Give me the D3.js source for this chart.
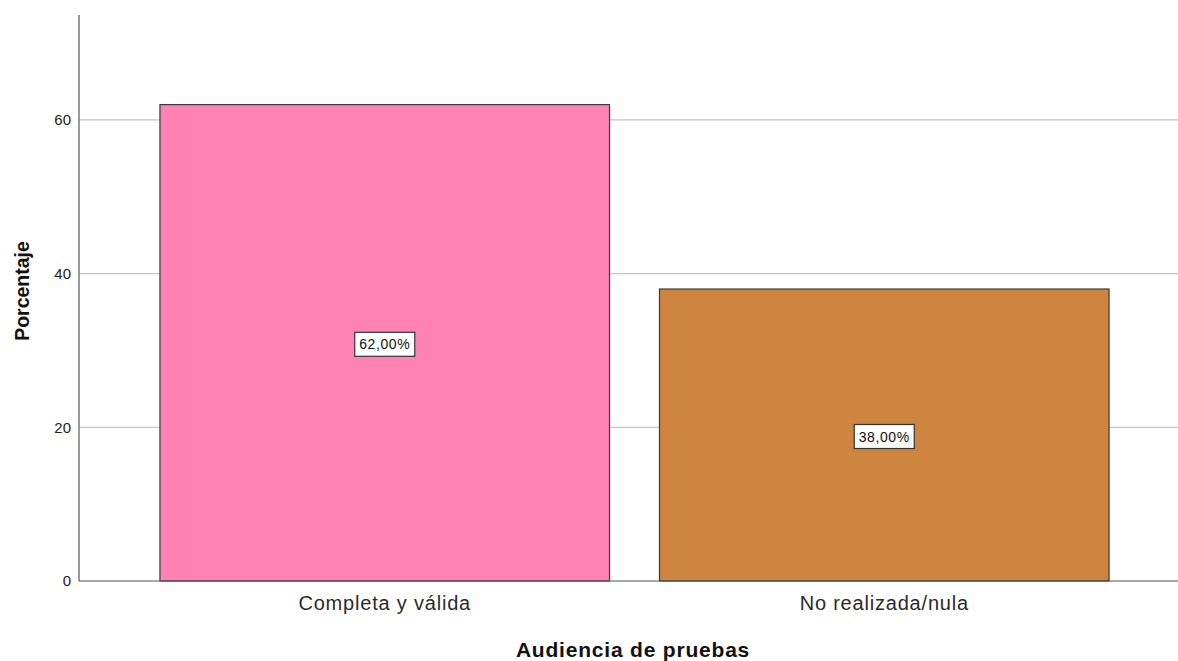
<!DOCTYPE html>
<html><head><meta charset="utf-8">
<script src="https://cdn.jsdelivr.net/npm/d3@7"></script>
<style>body{margin:0;background:#fff}svg{display:block}text{font-family:"Liberation Sans",Arial,sans-serif}</style>
</head><body><svg id="c" width="1178" height="661"></svg>
<script>
const categories = ["Completa y válida", "No realizada/nula"];
const values = [62, 38];
const valueLabels = ["62,00%", "38,00%"];
const colors = ["#FF82B4", "#CD853F"];
const yTicks = [0, 20, 40, 60];

(function () {
const svg = d3.select("#c");
const pL = 79, pR = 1178, pT = 15, pB = 581;
const FF = '"Liberation Sans",Arial,sans-serif';
const y = d3.scaleLinear().domain([0, 73.66]).range([pB, pT]);
const x = d3.scaleBand().domain(categories).range([110, 1159]).paddingInner(0.1).paddingOuter(0.1);

// gridlines
svg.append("g").selectAll("line").data(yTicks.filter(d => d > 0)).join("line")
  .attr("x1", pL).attr("x2", pR).attr("y1", d => y(d)).attr("y2", d => y(d))
  .attr("stroke", "#c4c4c4").attr("stroke-width", 1.3);

// bars
svg.append("g").selectAll("rect").data(categories).join("rect")
  .attr("x", d => x(d)).attr("width", x.bandwidth())
  .attr("y", (d, i) => y(values[i])).attr("height", (d, i) => y(0) - y(values[i]))
  .attr("fill", (d, i) => colors[i]).attr("stroke", "#3a3a3a").attr("stroke-width", 1.2);

// axes
const yAxis = d3.axisLeft(y).tickValues(yTicks).tickSize(0).tickPadding(8);
const gy = svg.append("g").attr("transform", `translate(${pL},0)`).call(yAxis);
gy.select(".domain").remove();
gy.selectAll("text").attr("font-size", 15).attr("fill", "#222").style("font-family", FF);
svg.append("line").attr("x1", pL).attr("x2", pL).attr("y1", pT).attr("y2", pB).attr("stroke", "#777").attr("stroke-width", 1.5);
svg.append("line").attr("x1", pL).attr("x2", pR).attr("y1", pB).attr("y2", pB).attr("stroke", "#555").attr("stroke-width", 1.2);

const xAxis = d3.axisBottom(x).tickSize(0).tickPadding(15);
const gx = svg.append("g").attr("transform", `translate(0,${pB})`).call(xAxis);
gx.select(".domain").remove();
gx.selectAll("text").attr("font-size", 20).attr("fill", "#2a2a2a").attr("letter-spacing", 0.8).style("font-family", FF);

// value labels
const lg = svg.append("g").selectAll("g").data(categories).join("g")
  .attr("transform", (d, i) => `translate(${x(d) + x.bandwidth() / 2},${(y(values[i]) + y(0)) / 2 + 1.5})`);
lg.append("rect").attr("x", -30).attr("y", -12).attr("width", 60).attr("height", 24)
  .attr("fill", "#fff").attr("stroke", "#333").attr("stroke-width", 1.2);
lg.append("text").text((d, i) => valueLabels[i]).attr("text-anchor", "middle").attr("dy", "0.36em")
  .attr("font-size", 14).attr("letter-spacing", 0.6).attr("fill", "#111");

// axis titles
svg.append("text").attr("x", 633).attr("y", 657).attr("text-anchor", "middle")
  .attr("font-size", 21).attr("letter-spacing", 0.8).attr("font-weight", "bold").attr("fill", "#111").text("Audiencia de pruebas");
svg.append("text").attr("transform", "translate(29,291) rotate(-90)").attr("text-anchor", "middle")
  .attr("font-size", 19.5).attr("font-weight", "bold").attr("fill", "#111").text("Porcentaje");
})();
</script></body></html>
